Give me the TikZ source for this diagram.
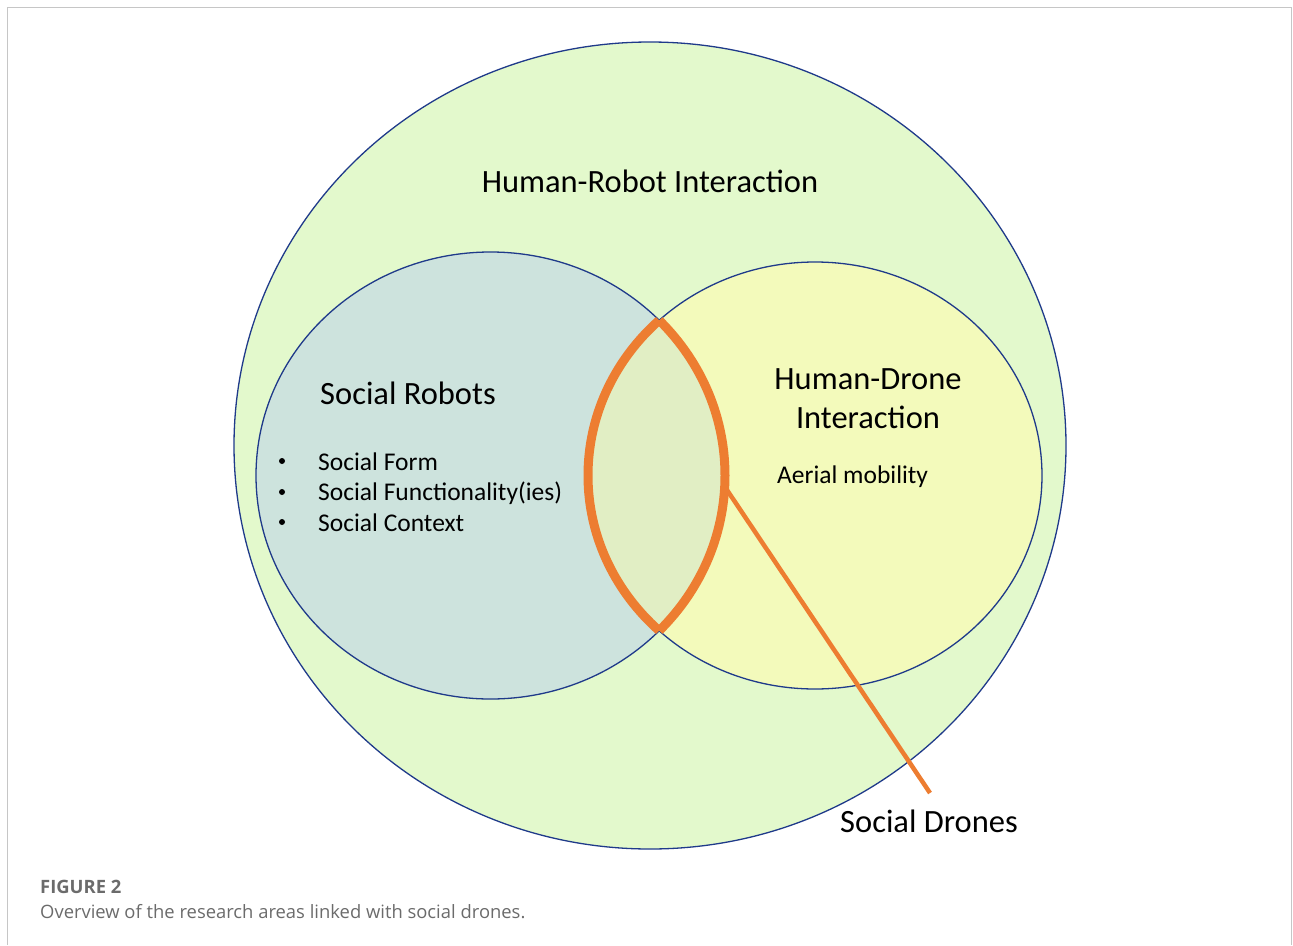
\documentclass[tikz,border=0pt]{standalone}
\usepackage{fontspec}
\setmainfont{Carlito}
\newfontfamily\capfont{Open Sans}
\definecolor{outerc}{HTML}{E3F9CC}
\definecolor{leftc}{HTML}{CDE3DD}
\definecolor{rightc}{HTML}{F3FABB}
\definecolor{lensc}{HTML}{E1EEC4}
\definecolor{edgec}{HTML}{1F3A8A}
\definecolor{orangec}{HTML}{ED7D31}
\definecolor{capgray}{HTML}{6B6B6B}
\tikzset{
  setedge/.style={draw=edgec, line width=1.3pt},
  lensedge/.style={draw=orangec, line width=9pt},
  lbl/.style={inner sep=0pt, text=black},
  big/.style={lbl, font=\fontsize{32.5}{39}\selectfont},
  small/.style={lbl, anchor=west, font=\fontsize{25.5}{30}\selectfont},
}
\begin{document}
\begin{tikzpicture}[x=1pt,y=-1pt]
\useasboundingbox (0,0) rectangle (1293,945);
\draw[gray!45, line width=1.2pt] (7.5,945) -- (7.5,7.5) -- (1291.5,7.5) -- (1291.5,945);
% outer set
\path[setedge, fill=outerc] (650,445.5) ellipse [x radius=416, y radius=403.5];
% left and right sets
\path[setedge, fill=leftc] (490.5,475.5) ellipse [x radius=234.5, y radius=223.5];
\path[setedge, fill=rightc] (815,475.5) ellipse [x radius=227, y radius=213.5];
% lens fill
\begin{scope}
  \clip (490.5,475.5) ellipse [x radius=234.5, y radius=223.5];
  \fill[lensc] (815,475.5) ellipse [x radius=227, y radius=213.5];
\end{scope}
% lens outline (half of each stroke lies inside the clip)
\begin{scope}
  \clip (490.5,475.5) ellipse [x radius=234.5, y radius=223.5];
  \draw[lensedge] (815,475.5) ellipse [x radius=227, y radius=213.5];
\end{scope}
\begin{scope}
  \clip (815,475.5) ellipse [x radius=227, y radius=213.5];
  \draw[lensedge] (490.5,475.5) ellipse [x radius=234.5, y radius=223.5];
\end{scope}
% connector
\coordinate (lensR) at (725,487);
\coordinate (tip) at (930,793);
\draw[orangec, line width=4.5pt] (lensR) -- (tip);
% labels
\node[big] (hri) at (650,181) {Human-Robot Interaction};
\node[big] (sr) at (408,393) {Social Robots};
\node[big, align=center, font=\fontsize{32.5}{39}\selectfont] (hdi) at (868,399) {Human-Drone\\Interaction};
\node[small] (am) at (777,477) {Aerial mobility};
\node[small] (b1) at (318,462) {Social Form};
\node[small] (b2) at (318,493) {Social Functionality(ies)};
\node[small] (b3) at (318,523) {Social Context};
\foreach \yy in {461,492,522}{
  \fill (282,\yy) circle (3pt);
}
\node[big] (sd) at (929,821) {Social Drones};
% caption
\node[lbl, anchor=west, text=capgray, font=\capfont\bfseries\fontsize{18.4}{22}\selectfont] (fig) at (40,887) {FIGURE 2};
\node[lbl, anchor=west, text=capgray, font=\capfont\fontsize{18.4}{22}\selectfont] (cap) at (40,912) {Overview of the research areas linked with social drones.};
\end{tikzpicture}
\end{document}
